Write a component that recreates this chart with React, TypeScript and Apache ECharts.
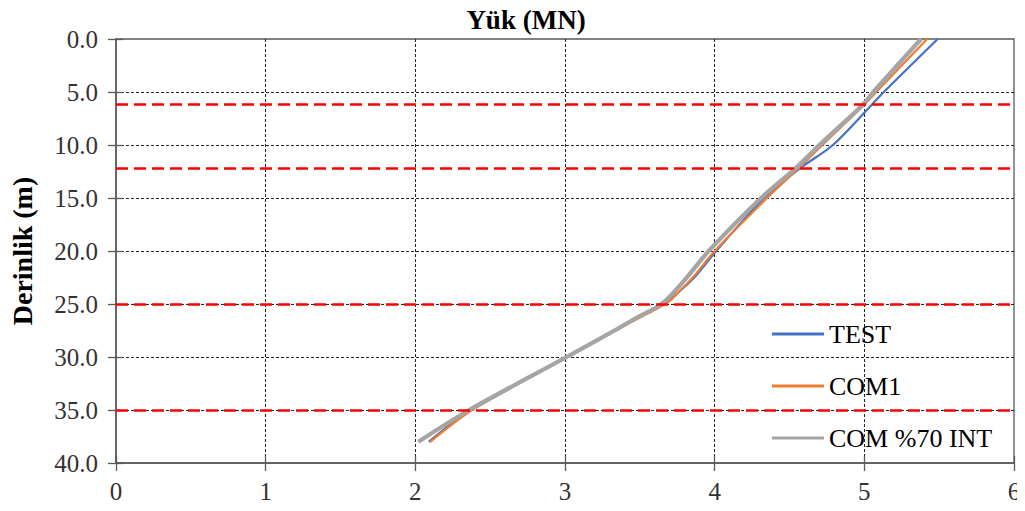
import React, { useEffect, useRef } from "react";
import * as echarts from "echarts";

const FONT = "Liberation Serif";

const depths = [0, 5, 6.2, 10, 12.2, 15, 20, 22.4, 24, 24.7, 25.4, 26.2, 27.5, 30, 35, 38];
const testLoad = [5.49, 5.13, 5.05, 4.79, 4.57, 4.33, 4.01, 3.87, 3.75, 3.69, 3.61, 3.5, 3.33, 3.01, 2.37, 2.09];
const com1Load = [5.42, 5.08, 5.0, 4.72, 4.56, 4.35, 4.0, 3.86, 3.75, 3.7, 3.62, 3.51, 3.34, 3.02, 2.38, 2.1];
const com70Load = [5.38, 5.06, 4.99, 4.7, 4.54, 4.31, 3.96, 3.82, 3.72, 3.67, 3.6, 3.49, 3.33, 3.01, 2.36, 2.02];
const layerDepths = [6.2, 12.2, 25, 35];

const seriesNames = ["TEST", "COM1", "COM %70 INT"];
const seriesColors = ["#4472C4", "#ED7D31", "#A5A5A5"];
const seriesWidths = [2.2, 2.2, 4.2];
const seriesLoads = [testLoad, com1Load, com70Load];

export default function App() {
  const ref = useRef<HTMLDivElement>(null);
  useEffect(() => {
    if (!ref.current) return;
    const chart = echarts.init(ref.current, null, { renderer: "svg" });
    const axisColor = "#595959";
    const lineSeries = seriesNames.map((name, i) => ({
      name,
      type: "line",
      data: depths.map((d, k) => [seriesLoads[i][k], d]),
      showSymbol: false,
      symbol: "none",
      smooth: 0.3,
      lineStyle: { color: seriesColors[i], width: seriesWidths[i] },
      itemStyle: { color: seriesColors[i] },
      z: 3,
    }));
    chart.setOption({
      animation: false,
      backgroundColor: "#fff",
      textStyle: { fontFamily: FONT },
      title: {
        text: "Yük (MN)",
        left: 521,
        top: 1,
        textAlign: "center",
        textStyle: { fontFamily: FONT, fontSize: 27, fontWeight: "bold", color: "#000" },
      },
      grid: {
        left: 113,
        right: 11,
        top: 39,
        bottom: 48,
        show: true,
        borderColor: axisColor,
        borderWidth: 1.3,
        backgroundColor: "transparent",
      },
      legend: {
        orient: "vertical",
        left: 772,
        top: 321,
        padding: 0,
        icon: "rect",
        itemWidth: 52,
        itemHeight: 3,
        itemGap: 26,
        data: seriesNames,
        textStyle: { fontFamily: FONT, fontSize: 26, lineHeight: 24, color: "#000" },
      },
      xAxis: [
        {
          type: "value",
          position: "bottom",
          min: 0,
          max: 6,
          interval: 1,
          axisLine: { show: true, onZero: false, lineStyle: { color: axisColor, width: 1.5 } },
          axisTick: { show: true, length: 8, lineStyle: { color: axisColor, width: 1.3 } },
          axisLabel: { fontFamily: FONT, fontSize: 25, color: "#333", margin: 16 },
          splitLine: {
            show: true,
            showMinLine: false,
            showMaxLine: false,
            lineStyle: { color: "#222", width: 1, type: [3, 2] },
          },
        },
        {
          type: "value",
          position: "bottom",
          min: 0,
          max: 6,
          interval: 1,
          axisLine: { show: false, onZero: false },
          axisTick: { show: true, inside: true, length: 7, lineStyle: { color: axisColor, width: 1.3 } },
          axisLabel: { show: false },
          splitLine: { show: false },
        },
      ],
      yAxis: [
        {
          type: "value",
          inverse: true,
          min: 0,
          max: 40,
          interval: 5,
          name: "Derinlik (m)",
          nameLocation: "middle",
          nameGap: 80,
          nameTextStyle: { fontFamily: FONT, fontSize: 28, fontWeight: "bold", color: "#000" },
          axisLine: { show: true, onZero: false, lineStyle: { color: axisColor, width: 1.5 } },
          axisTick: { show: true, length: 8, lineStyle: { color: axisColor, width: 1.3 } },
          axisLabel: {
            fontFamily: FONT,
            fontSize: 25,
            color: "#333",
            margin: 18,
            formatter: (v: number) => v.toFixed(1),
          },
          splitLine: {
            show: true,
            showMinLine: false,
            showMaxLine: false,
            lineStyle: { color: "#222", width: 1, type: [3, 2] },
          },
        },
        {
          type: "value",
          inverse: true,
          position: "left",
          min: 0,
          max: 40,
          interval: 5,
          axisLine: { show: false, onZero: false },
          axisTick: { show: true, inside: true, length: 7, lineStyle: { color: axisColor, width: 1.3 } },
          axisLabel: { show: false },
          splitLine: { show: false },
        },
      ],
      series: [
        {
          name: "layers",
          type: "line",
          data: [],
          z: 2,
          markLine: {
            silent: true,
            symbol: ["none", "none"],
            label: { show: false },
            lineStyle: { color: "#FF0000", width: 2.5, type: [12, 6] },
            data: layerDepths.map((d) => ({ yAxis: d })),
          },
        },
        ...lineSeries,
      ],
    });
    return () => chart.dispose();
  }, []);
  return <div ref={ref} style={{ width: 1025, height: 511, margin: -8 }} />;
}
